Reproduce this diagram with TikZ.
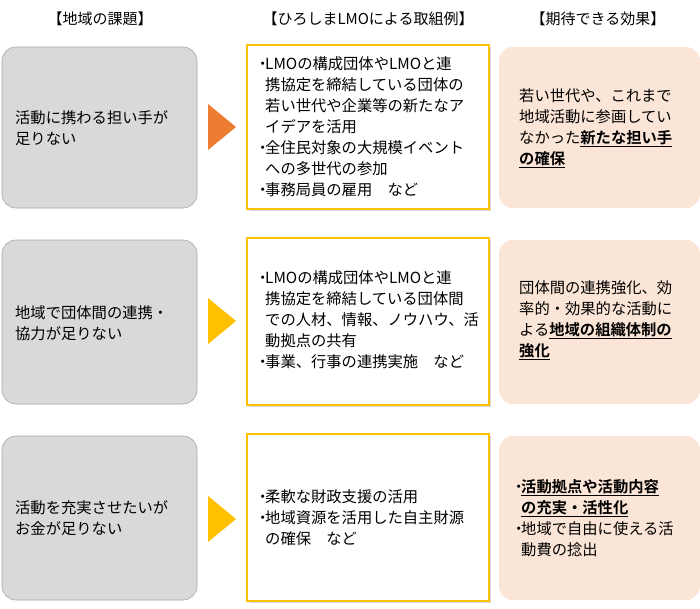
\documentclass[tikz,border=0pt]{standalone}
\usepackage{fontspec}
\setmainfont{Noto Sans CJK JP}[BoldFont={Noto Sans CJK JP Bold}]
\usetikzlibrary{shadows}
\definecolor{gbox}{HTML}{D9D9D9}
\definecolor{gline}{HTML}{A6A6A6}
\definecolor{ybord}{HTML}{FFC000}
\definecolor{peach}{HTML}{FBE5D6}
\definecolor{org}{HTML}{ED7D31}
\tikzset{
 gray/.style={fill=gbox,draw=gline,rounded corners=14pt,line width=0.6pt},
 mid/.style={fill=white,draw=ybord,line width=1.6pt,drop shadow={shadow xshift=2pt,shadow yshift=-2pt,opacity=0.3}},
 pe/.style={fill=peach,rounded corners=14pt},
 txt/.style={align=left,anchor=west,font=\fontsize{15.3}{21}\selectfont,inner sep=0},
 hd/.style={font=\fontsize{15}{18}\selectfont,inner sep=0},
 arr/.style={inner sep=0}
}
\newcommand{\bl}{\makebox[10pt][l]{・}}
\newcommand{\ind}{\hspace*{10pt}}
\newcommand{\ul}[1]{\underline{\textbf{#1}}}
\begin{document}
\begin{tikzpicture}[x=1pt,y=-1pt]
\useasboundingbox (0,0) rectangle (700,608);
\node[hd] (h1) at (100,19) {【地域の課題】};
\node[hd] (h2) at (368,19) {【ひろしまLMOによる取組例】};
\node[hd] (h3) at (598,19) {【期待できる効果】};
\foreach \t/\b/\n in {47/208/1,240/404/2,436/600/3}{
 \draw[gray] (2,\t) rectangle (197,\b);
 \draw[mid] (247,\t-2) rectangle (489,\b+1);
 \fill[pe] (499,\t) rectangle (700,\b);
}
\fill[org] (208,104) -- (236,127) -- (208,150) -- cycle;
\fill[ybord] (208,298) -- (236,321) -- (208,344) -- cycle;
\fill[ybord] (208,496) -- (236,519) -- (208,542) -- cycle;
\node[txt] (l1) at (15,128) {活動に携わる担い手が\\足りない};
\node[txt] (l2) at (15,323) {地域で団体間の連携・\\協力が足りない};
\node[txt] (l3) at (15,518) {活動を充実させたいが\\お金が足りない};
\node[txt] (m1) at (255,127) {\bl LMOの構成団体やLMOと連\\\ind 携協定を締結している団体の\\\ind 若い世代や企業等の新たなア\\\ind イデアを活用\\\bl 全住民対象の大規模イベント\\\ind への多世代の参加\\\bl 事務局員の雇用\quad など};
\node[txt] (m2) at (255,320) {\bl LMOの構成団体やLMOと連\\\ind 携協定を締結している団体間\\\ind での人材、情報、ノウハウ、活\\\ind 動拠点の共有\\\bl 事業、行事の連携実施\quad など};
\node[txt] (m3) at (255,518) {\bl 柔軟な財政支援の活用\\\bl 地域資源を活用した自主財源\\\ind の確保\quad など};
\node[txt] (r1) at (519,128) {若い世代や、これまで\\地域活動に参画してい\\なかった\ul{新たな担い手}\\\ul{の確保}};
\node[txt] (r2) at (519,320) {団体間の連携強化、効\\率的・効果的な活動に\\よる\ul{地域の組織体制の}\\\ul{強化}};
\node[txt] (r3) at (511,518) {\bl\ul{活動拠点や活動内容}\\\ind\ul{の充実・活性化}\\\bl 地域で自由に使える活\\\ind 動費の捻出};
\end{tikzpicture}
\end{document}
